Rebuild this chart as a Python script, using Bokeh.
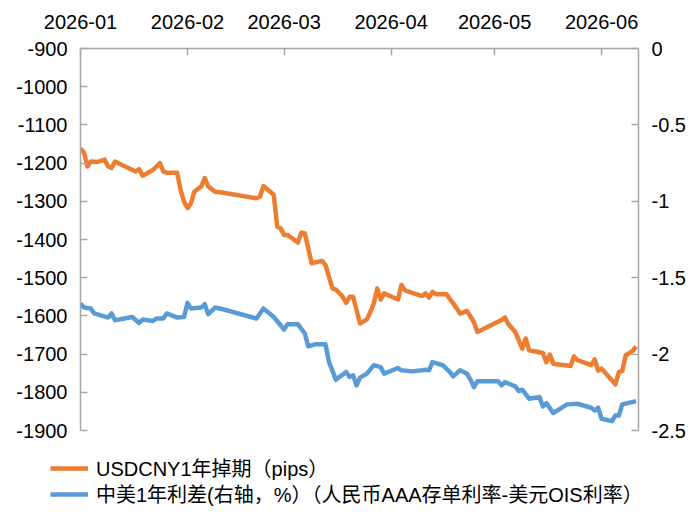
import pandas as pd
from bokeh.plotting import figure
from bokeh.layouts import column
from bokeh.models import (Range1d, LinearAxis, FixedTicker, CustomJSTickFormatter,
                          Legend, LegendItem, ColumnDataSource)
from bokeh.embed import file_html
from bokeh.resources import INLINE

# ---------------- data ----------------
swap_dates = [
    "2026-01-01", "2026-01-02", "2026-01-03", "2026-01-04", "2026-01-06", "2026-01-08",
    "2026-01-09", "2026-01-10", "2026-01-11", "2026-01-13", "2026-01-17", "2026-01-18",
    "2026-01-19", "2026-01-22", "2026-01-24", "2026-01-25", "2026-01-26", "2026-01-29",
    "2026-01-30", "2026-01-31", "2026-02-01", "2026-02-02", "2026-02-03", "2026-02-05",
    "2026-02-06", "2026-02-07", "2026-02-09", "2026-02-11", "2026-02-21", "2026-02-22",
    "2026-02-23", "2026-02-26", "2026-02-27", "2026-02-28", "2026-03-01", "2026-03-02",
    "2026-03-05", "2026-03-06", "2026-03-07", "2026-03-09", "2026-03-12", "2026-03-13",
    "2026-03-15", "2026-03-16", "2026-03-18", "2026-03-19", "2026-03-20", "2026-03-21",
    "2026-03-23", "2026-03-25", "2026-03-26", "2026-03-27", "2026-03-28", "2026-03-29",
    "2026-03-30", "2026-04-03", "2026-04-04", "2026-04-05", "2026-04-10", "2026-04-11",
    "2026-04-12", "2026-04-13", "2026-04-14", "2026-04-17", "2026-04-19", "2026-04-21",
    "2026-04-23", "2026-04-25", "2026-04-26", "2026-05-03", "2026-05-04", "2026-05-05",
    "2026-05-07", "2026-05-09", "2026-05-10", "2026-05-11", "2026-05-15", "2026-05-16",
    "2026-05-17", "2026-05-18", "2026-05-23", "2026-05-24", "2026-05-25", "2026-05-26",
    "2026-05-29", "2026-05-30", "2026-05-31", "2026-06-01", "2026-06-05", "2026-06-06",
    "2026-06-07", "2026-06-08", "2026-06-10", "2026-06-11",
]
swap_pips = [
    -1162, -1172, -1209, -1196, -1197, -1191,
    -1209, -1213, -1196, -1205, -1222, -1216,
    -1233, -1218, -1200, -1222, -1225, -1225,
    -1270, -1301, -1318, -1305, -1275, -1261,
    -1239, -1261, -1275, -1277, -1292, -1288,
    -1260, -1283, -1366, -1371, -1388, -1388,
    -1408, -1382, -1384, -1462, -1456, -1467,
    -1528, -1531, -1550, -1566, -1550, -1550,
    -1620, -1609, -1590, -1567, -1528, -1557,
    -1541, -1557, -1519, -1533, -1548, -1541,
    -1552, -1537, -1543, -1543, -1567, -1594,
    -1587, -1616, -1642, -1611, -1604, -1622,
    -1642, -1686, -1659, -1690, -1697, -1721,
    -1701, -1725, -1731, -1706, -1716, -1719,
    -1729, -1714, -1743, -1738, -1779, -1747,
    -1744, -1703, -1692, -1680,
]

spread_dates = [
    "2026-01-01", "2026-01-02", "2026-01-04", "2026-01-05", "2026-01-09", "2026-01-10",
    "2026-01-11", "2026-01-16", "2026-01-18", "2026-01-19", "2026-01-22", "2026-01-23",
    "2026-01-25", "2026-01-26", "2026-01-29", "2026-01-31", "2026-02-01", "2026-02-02",
    "2026-02-05", "2026-02-06", "2026-02-07", "2026-02-09", "2026-02-11", "2026-02-21",
    "2026-02-23", "2026-02-26", "2026-03-01", "2026-03-02", "2026-03-05", "2026-03-07",
    "2026-03-08", "2026-03-10", "2026-03-13", "2026-03-14", "2026-03-16", "2026-03-19",
    "2026-03-20", "2026-03-21", "2026-03-22", "2026-03-23", "2026-03-25", "2026-03-27",
    "2026-03-29", "2026-03-30", "2026-04-03", "2026-04-04", "2026-04-07", "2026-04-10",
    "2026-04-11", "2026-04-12", "2026-04-13", "2026-04-16", "2026-04-18", "2026-04-19",
    "2026-04-21", "2026-04-23", "2026-04-24", "2026-04-25", "2026-04-26", "2026-05-02",
    "2026-05-03", "2026-05-04", "2026-05-07", "2026-05-08", "2026-05-09", "2026-05-11",
    "2026-05-14", "2026-05-15", "2026-05-16", "2026-05-18", "2026-05-22", "2026-05-25",
    "2026-05-29", "2026-05-30", "2026-05-31", "2026-06-01", "2026-06-04", "2026-06-05",
    "2026-06-06", "2026-06-07", "2026-06-11",
]
spread_pct = [
    -1.669, -1.695, -1.701, -1.734, -1.761, -1.734,
    -1.778, -1.757, -1.796, -1.774, -1.783, -1.767,
    -1.767, -1.734, -1.761, -1.757, -1.665, -1.701,
    -1.695, -1.673, -1.739, -1.695, -1.705, -1.767,
    -1.701, -1.757, -1.839, -1.804, -1.804, -1.865,
    -1.949, -1.936, -1.936, -2.052, -2.167, -2.117,
    -2.150, -2.139, -2.205, -2.154, -2.128, -2.073,
    -2.085, -2.128, -2.091, -2.106, -2.113, -2.106,
    -2.102, -2.106, -2.052, -2.073, -2.117, -2.146,
    -2.106, -2.128, -2.167, -2.216, -2.177, -2.177,
    -2.205, -2.183, -2.211, -2.242, -2.233, -2.292,
    -2.281, -2.343, -2.321, -2.386, -2.329, -2.325,
    -2.351, -2.369, -2.351, -2.423, -2.439, -2.402,
    -2.402, -2.329, -2.308,
]

month_ticks = ["2026-01-01", "2026-02-01", "2026-03-01", "2026-04-01", "2026-05-01", "2026-06-01"]
left_ticks = [-900, -1000, -1100, -1200, -1300, -1400, -1500, -1600, -1700, -1800, -1900]
right_ticks = [0, -0.5, -1, -1.5, -2, -2.5]

swap_label = "USDCNY1年掉期（pips）"
spread_label = "中美1年利差(右轴，%）（人民币AAA存单利率-美元OIS利率）"

ORANGE = "#ED7D31"
BLUE = "#5B9BD5"
AXIS_GRAY = "#A6A6A6"
FONT = "Liberation Sans, Noto Sans CJK SC"
LW = 4.5

# ---------------- main chart ----------------
x_start = pd.Timestamp("2026-01-01")
x_end = x_start + pd.Timedelta(days=161.7)

p = figure(width=700, height=440, x_axis_type="datetime", x_axis_location="above",
           x_range=Range1d(x_start, x_end), y_range=Range1d(-1900, -900),
           output_backend="svg", toolbar_location=None,
           min_border_left=80, min_border_right=62, min_border_top=48, min_border_bottom=10)
p.extra_y_ranges = {"spread": Range1d(-2.5, 0)}
p.outline_line_color = None
p.xgrid.grid_line_color = None
p.ygrid.grid_line_color = None

src1 = ColumnDataSource(dict(x=pd.to_datetime(swap_dates), y=swap_pips))
src2 = ColumnDataSource(dict(x=pd.to_datetime(spread_dates), y=spread_pct))
r1 = p.line("x", "y", source=src1, line_color=ORANGE, line_width=LW, line_join="round")
r2 = p.line("x", "y", source=src2, line_color=BLUE, line_width=LW, line_join="round",
            y_range_name="spread")

right_axis = LinearAxis(y_range_name="spread")
p.add_layout(right_axis, "right")

def style_axis(ax):
    ax.axis_line_color = AXIS_GRAY
    ax.axis_line_width = 1.5
    ax.major_tick_line_color = AXIS_GRAY
    ax.major_tick_line_width = 1.5
    ax.major_tick_in = 7
    ax.major_tick_out = 0
    ax.minor_tick_in = 0
    ax.minor_tick_out = 0
    ax.minor_tick_line_color = None
    ax.major_label_text_font = FONT
    ax.major_label_text_font_size = "20px"
    ax.major_label_text_color = "black"
    ax.major_label_standoff = 13

xax = p.xaxis[0]
style_axis(xax)
xax.major_label_standoff = 20
xax.ticker = FixedTicker(ticks=[pd.Timestamp(t).value // 10**6 for t in month_ticks])
xax.formatter = CustomJSTickFormatter(code="""
const d = new Date(tick);
return d.getUTCFullYear() + "-" + String(d.getUTCMonth() + 1).padStart(2, "0");
""")

lax = p.yaxis[0]
style_axis(lax)
lax.ticker = FixedTicker(ticks=left_ticks)
lax.formatter = CustomJSTickFormatter(code="return String(tick);")

style_axis(right_axis)
right_axis.ticker = FixedTicker(ticks=right_ticks)
right_axis.formatter = CustomJSTickFormatter(code="return String(Math.round(tick * 10) / 10);")

# ---------------- legend strip ----------------
lg = figure(width=700, height=74, x_range=Range1d(0, 700), y_range=Range1d(0, 74),
            output_backend="svg", toolbar_location=None,
            min_border_left=0, min_border_right=0, min_border_top=0, min_border_bottom=0)
lg.frame_align = False
lg.axis.visible = False
lg.grid.visible = False
lg.outline_line_color = None
# the same series, drawn outside this strip's view, serve only as legend keys
k1 = lg.line("x", "y", source=src1, line_color=ORANGE, line_width=LW)
k2 = lg.line("x", "y", source=src2, line_color=BLUE, line_width=LW)

def make_legend(label, renderer, loc):
    return Legend(items=[LegendItem(label=label, renderers=[renderer])],
                  location=loc, orientation="vertical",
                  padding=0, margin=0, spacing=0,
                  glyph_width=38, glyph_height=20, label_height=20,
                  label_standoff=8,
                  label_text_font=FONT, label_text_font_size="20px",
                  label_text_color="black",
                  border_line_color=None, background_fill_alpha=0)

lg.add_layout(make_legend(swap_label, k1, (50, 32)), "center")
lg.add_layout(make_legend(spread_label, k2, (50, 6)), "center")

layout = column(p, lg, spacing=0)
open("out.html", "w").write(file_html(layout, INLINE))
